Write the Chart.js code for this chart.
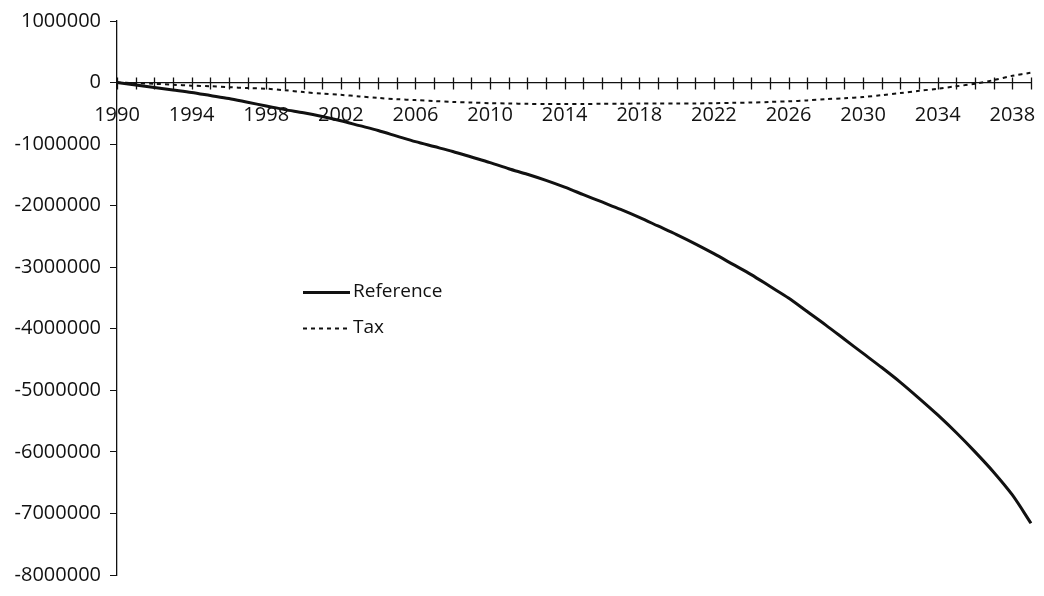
<!DOCTYPE html>
<html>
<head>
<meta charset="utf-8">
<script src="https://cdn.jsdelivr.net/npm/chart.js@4.4.1/dist/chart.umd.min.js"></script>
<style>
  html, body { margin: 0; padding: 0; background: #fff; }
  #wrap { width: 1044px; height: 596px; position: relative; }
</style>
</head>
<body>
<div id="wrap"><canvas id="c" width="1044" height="596"></canvas></div>
<script>
// Years on the horizontal axis
const years = [
  '1990','1991','1992','1993','1994','1995','1996','1997','1998','1999',
  '2000','2001','2002','2003','2004','2005','2006','2007','2008','2009',
  '2010','2011','2012','2013','2014','2015','2016','2017','2018','2019',
  '2020','2021','2022','2023','2024','2025','2026','2027','2028','2029',
  '2030','2031','2032','2033','2034','2035','2036','2037','2038','2039'
];

// Years that carry a printed label
const labelledYears = ['1990','1994','1998','2002','2006','2010','2014','2018','2022','2026','2030','2034','2038'];

// Vertical axis ticks
const yTicks = [1000000, 0, -1000000, -2000000, -3000000, -4000000, -5000000, -6000000, -7000000, -8000000];

// Reference scenario
const referenceValues = [
  0, -40000, -80000, -120000, -160000, -210000, -260000, -320000, -380000, -440000,
  -490000, -550000, -620000, -700000, -780000, -870000, -960000, -1040000, -1120000, -1210000,
  -1300000, -1400000, -1490000, -1590000, -1700000, -1820000, -1940000, -2060000, -2190000, -2330000,
  -2470000, -2620000, -2780000, -2950000, -3120000, -3310000, -3500000, -3720000, -3940000, -4170000,
  -4400000, -4630000, -4870000, -5130000, -5400000, -5690000, -6000000, -6330000, -6700000, -7160000
];

// Tax scenario
const taxValues = [
  0, -10000, -20000, -35000, -50000, -60000, -75000, -90000, -100000, -125000,
  -155000, -180000, -200000, -225000, -250000, -270000, -285000, -300000, -315000, -325000,
  -335000, -340000, -345000, -350000, -350000, -350000, -345000, -345000, -340000, -340000,
  -340000, -340000, -335000, -330000, -325000, -315000, -305000, -290000, -270000, -255000,
  -235000, -205000, -170000, -135000, -100000, -60000, -20000, 40000, 110000, 160000
];

const FONT = '"Open Sans", "DejaVu Sans", sans-serif';
const INK = '#111';

// Tick marks that cross the zero line, one per year
const crossTicks = {
  id: 'crossTicks',
  afterDatasetsDraw(chart) {
    const xs = chart.scales.x, ys = chart.scales.y;
    const y0 = Math.round(ys.getPixelForValue(0)) + 0.5;
    const ctx = chart.ctx;
    ctx.save();
    ctx.strokeStyle = INK;
    ctx.lineWidth = 1.3;
    ctx.beginPath();
    xs.ticks.forEach((t, i) => {
      const px = Math.round(xs.getPixelForTick(i)) + 0.5;
      ctx.moveTo(px, y0 - 6);
      ctx.lineTo(px, y0 + 6);
    });
    ctx.stroke();
    ctx.restore();
  }
};

// Legend drawn inside the plot, left of centre
const innerLegend = {
  id: 'innerLegend',
  afterDraw(chart) {
    const ctx = chart.ctx;
    const ca = chart.chartArea;
    const x0 = ca.left + 186, len = 47;
    const rows = [ca.top + 271, ca.top + 307];
    ctx.save();
    chart.data.datasets.forEach((ds, i) => {
      const y = rows[i] + 0.5;
      ctx.strokeStyle = ds.borderColor;
      ctx.lineWidth = ds.borderWidth;
      ctx.setLineDash(ds.borderDash || []);
      ctx.beginPath();
      ctx.moveTo(x0, y);
      ctx.lineTo(x0 + len, y);
      ctx.stroke();
      ctx.setLineDash([]);
      ctx.fillStyle = INK;
      ctx.font = '19px ' + FONT;
      ctx.textBaseline = 'middle';
      ctx.textAlign = 'left';
      ctx.fillText(ds.label, x0 + len + 3, rows[i]);
    });
    ctx.restore();
  }
};

new Chart(document.getElementById('c'), {
  type: 'line',
  data: {
    labels: years,
    datasets: [
      {
        label: 'Reference',
        data: referenceValues,
        borderColor: INK,
        borderWidth: 3,
        pointRadius: 0,
        tension: 0.3,
        fill: false
      },
      {
        label: 'Tax',
        data: taxValues,
        borderColor: INK,
        borderWidth: 2,
        borderDash: [4, 4],
        pointRadius: 0,
        tension: 0.3,
        fill: false
      }
    ]
  },
  options: {
    responsive: false,
    animation: false,
    devicePixelRatio: 1,
    layout: { padding: { left: 0, top: 19, right: 13, bottom: 13 } },
    plugins: {
      legend: { display: false },
      tooltip: { enabled: false }
    },
    scales: {
      x: {
        type: 'category',
        position: { y: 0 },
        offset: false,
        afterFit(scale) { scale.paddingRight = 0; scale.paddingLeft = 0; },
        grid: { display: true, drawOnChartArea: false, drawTicks: false },
        border: { display: true, color: INK, width: 1.3 },
        ticks: {
          autoSkip: false,
          maxRotation: 0,
          minRotation: 0,
          padding: 21,
          color: INK,
          font: { family: FONT, size: 20 },
          callback(value) {
            const lbl = this.getLabelForValue(value);
            return labelledYears.includes(lbl) ? lbl : '';
          }
        }
      },
      y: {
        min: -8000000,
        max: 1000000,
        grid: { display: true, drawOnChartArea: false, drawTicks: true, tickLength: 7, color: INK },
        border: { display: true, color: INK, width: 1.3 },
        afterBuildTicks(scale) {
          scale.ticks = yTicks.map(v => ({ value: v }));
        },
        afterFit(scale) { scale.width = 117; },
        ticks: {
          padding: 9,
          color: INK,
          font: { family: FONT, size: 20 },
          callback(value) { return String(value); }
        }
      }
    }
  },
  plugins: [crossTicks, innerLegend]
});
</script>
</body>
</html>
